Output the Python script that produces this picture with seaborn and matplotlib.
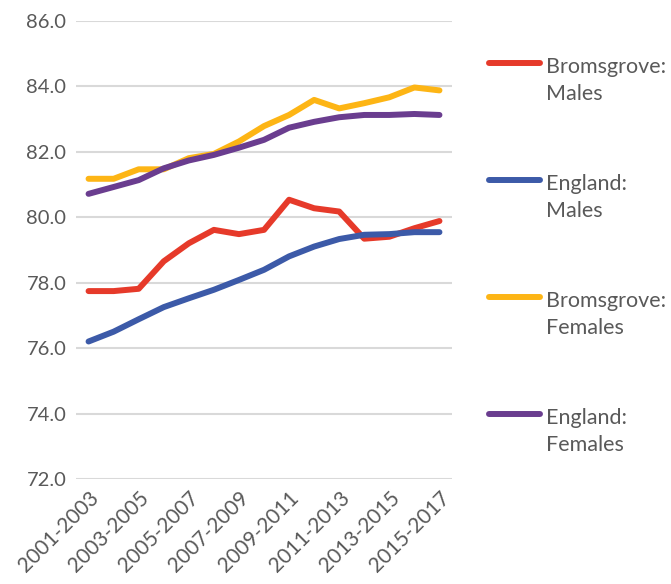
import matplotlib
matplotlib.use("Agg")
import matplotlib.pyplot as plt
from matplotlib.legend_handler import HandlerLine2D
import seaborn as sns
import pandas as pd

periods = ["2001-2003", "2002-2004", "2003-2005", "2004-2006", "2005-2007",
           "2006-2008", "2007-2009", "2008-2010", "2009-2011", "2010-2012",
           "2011-2013", "2012-2014", "2013-2015", "2014-2016", "2015-2017"]

bromsgrove_males = [77.74, 77.74, 77.81, 78.65, 79.20, 79.61, 79.48, 79.61,
                    80.53, 80.27, 80.17, 79.34, 79.40, 79.66, 79.88]
england_males = [76.20, 76.50, 76.88, 77.25, 77.52, 77.78, 78.08, 78.39,
                 78.80, 79.10, 79.33, 79.46, 79.48, 79.54, 79.54]
bromsgrove_females = [81.17, 81.17, 81.46, 81.46, 81.80, 81.93, 82.31, 82.78,
                      83.12, 83.58, 83.32, 83.48, 83.66, 83.96, 83.87]
england_females = [80.71, 80.92, 81.13, 81.49, 81.73, 81.90, 82.12, 82.36,
                   82.73, 82.91, 83.05, 83.12, 83.12, 83.15, 83.12]

series_names = ["Bromsgrove:\nMales", "England:\nMales",
                "Bromsgrove:\nFemales", "England:\nFemales"]
series_values = [bromsgrove_males, england_males, bromsgrove_females, england_females]
colors = ["#E63A2A", "#3C5AA8", "#FDB515", "#6A3D8F"]

frames = []
for name, vals in zip(series_names, series_values):
    frames.append(pd.DataFrame({"period": periods, "value": vals, "series": name}))
df = pd.concat(frames, ignore_index=True)

sns.set_theme(style="white")
plt.rcParams["font.family"] = ["Lato", "DejaVu Sans"]
text_grey = "#595959"

fig = plt.figure(figsize=(6.71, 5.84), dpi=100)
ax = fig.add_axes([0.1133, 0.1798, 0.5603, 0.7848])

sns.lineplot(data=df, x="period", y="value", hue="series",
             hue_order=series_names, palette=dict(zip(series_names, colors)),
             sort=False, linewidth=4.3, ax=ax, legend=True)

ax.set_xlim(-0.5, len(periods) - 0.5)
ax.set_ylim(72, 86)
ax.set_yticks(range(72, 87, 2))
ax.set_yticklabels([f"{v:.1f}" for v in range(72, 87, 2)],
                   fontsize=14.5, color=text_grey)
shown = list(range(0, len(periods), 2))
ax.set_xticks(shown)
ax.set_xticklabels([periods[i] for i in shown], rotation=45, ha="right",
                   va="top", rotation_mode="anchor", fontsize=15, color=text_grey)
ax.tick_params(axis="y", length=0, pad=7)
ax.tick_params(axis="x", length=0, pad=6)
ax.set_xlabel("")
ax.set_ylabel("")
ax.grid(axis="y", color="#D9D9D9", linewidth=1.5)
ax.set_axisbelow(True)
for s in ax.spines.values():
    s.set_visible(False)


class FirstLineHandler(HandlerLine2D):
    """Place the legend line beside the first line of a two-line label."""

    def create_artists(self, legend, orig_handle, xdescent, ydescent,
                       width, height, fontsize, trans):
        artists = super().create_artists(legend, orig_handle, xdescent, ydescent,
                                         width, height, fontsize, trans)
        shift = fontsize * 0.85
        for a in artists:
            if hasattr(a, "get_ydata"):
                a.set_ydata([y + shift for y in a.get_ydata()])
        return artists


handles, labels = ax.get_legend_handles_labels()
ax.get_legend().remove()
leg = fig.legend(handles, labels, loc="upper left",
                 bbox_to_anchor=(0.700, 0.936), frameon=False, fontsize=15.5,
                 handlelength=2.35, handletextpad=0.3, labelspacing=3.25,
                 handler_map={h: FirstLineHandler() for h in handles})
for t in leg.get_texts():
    t.set_color(text_grey)
    t.set_linespacing(1.45)
for h in leg.legend_handles:
    h.set_linewidth(4.3)
    h.set_solid_capstyle("round")

fig.savefig("out.png", dpi=100)
